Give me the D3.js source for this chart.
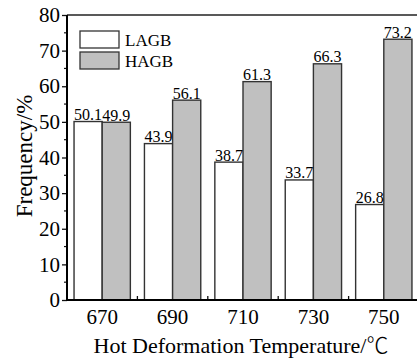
<!DOCTYPE html>
<html>
<head>
<meta charset="utf-8">
<script src="https://cdn.jsdelivr.net/npm/d3@7"></script>
<style>
	body { margin: 0; background: white; }
	text { font-family: "Liberation Serif", "Times New Roman", serif; fill: black; }
</style>
</head>
<body>
<script>
const temps = ['670', '690', '710', '730', '750']
const seriesNames = ['LAGB', 'HAGB']
const lagb = [50.1, 43.9, 38.7, 33.7, 26.8]
const hagb = [49.9, 56.1, 61.3, 66.3, 73.2]
const yTicks = [0, 10, 20, 30, 40, 50, 60, 70, 80]

const width = 417, height = 359
const margin = {left: 67, top: 15, right: 0, bottom: 60}
const colors = {LAGB: '#ffffff', HAGB: '#c0c0c0'}
const serif = '"Liberation Serif", "Times New Roman", serif'

const svg = d3.select('body').append('svg')
	.attr('width', width).attr('height', height)

const x = d3.scaleBand()
	.domain(temps)
	.range([margin.left, 419])
	.paddingInner(0.2).paddingOuter(0.1)

const xSub = d3.scaleBand()
	.domain(seriesNames)
	.range([0, x.bandwidth()])

const y = d3.scaleLinear()
	.domain([0, 80])
	.range([height - margin.bottom + 1, margin.top])

let rows = temps.map((t, i) => ({temp: t, LAGB: lagb[i], HAGB: hagb[i]}))

// top frame line
svg.append('line')
	.attr('x1', margin.left).attr('x2', width)
	.attr('y1', y(80)).attr('y2', y(80))
	.style('stroke', '#222').style('stroke-width', 1.5)

// bars
let groups = svg.selectAll('.grp').data(rows).enter().append('g')
	.attr('class', 'grp')
	.attr('transform', d => `translate(${x(d.temp)},0)`)

groups.selectAll('rect')
	.data(d => seriesNames.map(s => ({key: s, value: d[s]})))
	.enter().append('rect')
	.attr('x', d => xSub(d.key))
	.attr('y', d => y(d.value))
	.attr('width', xSub.bandwidth())
	.attr('height', d => y(0) - y(d.value))
	.style('fill', d => colors[d.key])
	.style('stroke', '#333').style('stroke-width', 1.4)

groups.selectAll('.val')
	.data(d => seriesNames.map(s => ({key: s, value: d[s]})))
	.enter().append('text')
	.attr('class', 'val')
	.attr('x', d => xSub(d.key) + xSub.bandwidth()/2)
	.attr('y', d => y(d.value) - 1.5)
	.attr('text-anchor', 'middle')
	.style('font-size', '16px')
	.text(d => d.value.toFixed(1))

// y axis
let yAxis = d3.axisLeft(y).tickValues(yTicks).tickSize(5).tickPadding(2)
let gy = svg.append('g')
	.attr('transform', `translate(${margin.left},0)`)
	.call(yAxis)
gy.select('.domain').remove()
gy.selectAll('.tick line').style('stroke', '#111').style('stroke-width', 1.3)
gy.selectAll('.tick text').style('font-size', '21px').style('font-family', serif)

// minor y ticks
svg.selectAll('.ymin').data(d3.range(5, 80, 10)).enter().append('line')
	.attr('x1', margin.left - 3).attr('x2', margin.left)
	.attr('y1', d => y(d)).attr('y2', d => y(d))
	.style('stroke', '#111').style('stroke-width', 1.2)

svg.append('line')
	.attr('x1', margin.left).attr('x2', margin.left)
	.attr('y1', y(80)).attr('y2', y(0) + 1)
	.style('stroke', 'black').style('stroke-width', 2)

// x axis
let gx = svg.append('g')
	.attr('transform', `translate(0,${y(0)})`)
	.call(d3.axisBottom(x).tickSize(0).tickPadding(9))
gx.select('.domain').remove()
gx.selectAll('.tick text').style('font-size', '21px').style('font-family', serif)

// ticks between categories
svg.selectAll('.xsep').data(temps.slice(1)).enter().append('line')
	.attr('x1', d => x(d) - x.step()*x.paddingInner()/2)
	.attr('x2', d => x(d) - x.step()*x.paddingInner()/2)
	.attr('y1', y(0)).attr('y2', y(0) - 4)
	.style('stroke', '#111').style('stroke-width', 1.3)

svg.append('line')
	.attr('x1', margin.left - 1).attr('x2', width)
	.attr('y1', y(0)).attr('y2', y(0))
	.style('stroke', 'black').style('stroke-width', 2)

// axis titles
let xTitle = svg.append('text')
	.attr('x', 241).attr('y', 353)
	.attr('text-anchor', 'middle')
	.style('font-size', '22px')
xTitle.append('tspan').text('Hot Deformation Temperature/')
xTitle.append('tspan')
	.style('font-family', '"Noto Sans CJK SC"').style('font-weight', 300)
	.text('℃')

svg.append('text')
	.attr('transform', `translate(32,${156}) rotate(-90)`)
	.attr('text-anchor', 'middle')
	.style('font-size', '23px')
	.text('Frequency/%')

// legend
let legend = svg.selectAll('.leg').data(seriesNames).enter().append('g')
	.attr('class', 'leg')
	.attr('transform', (d, i) => `translate(80,${31 + i*21})`)
legend.append('rect')
	.attr('width', 39).attr('height', 17)
	.style('fill', d => colors[d])
	.style('stroke', '#333').style('stroke-width', 1.3)
legend.append('text')
	.attr('x', 45).attr('y', 15)
	.style('font-size', '17px')
	.text(d => d)
</script>
</body>
</html>
